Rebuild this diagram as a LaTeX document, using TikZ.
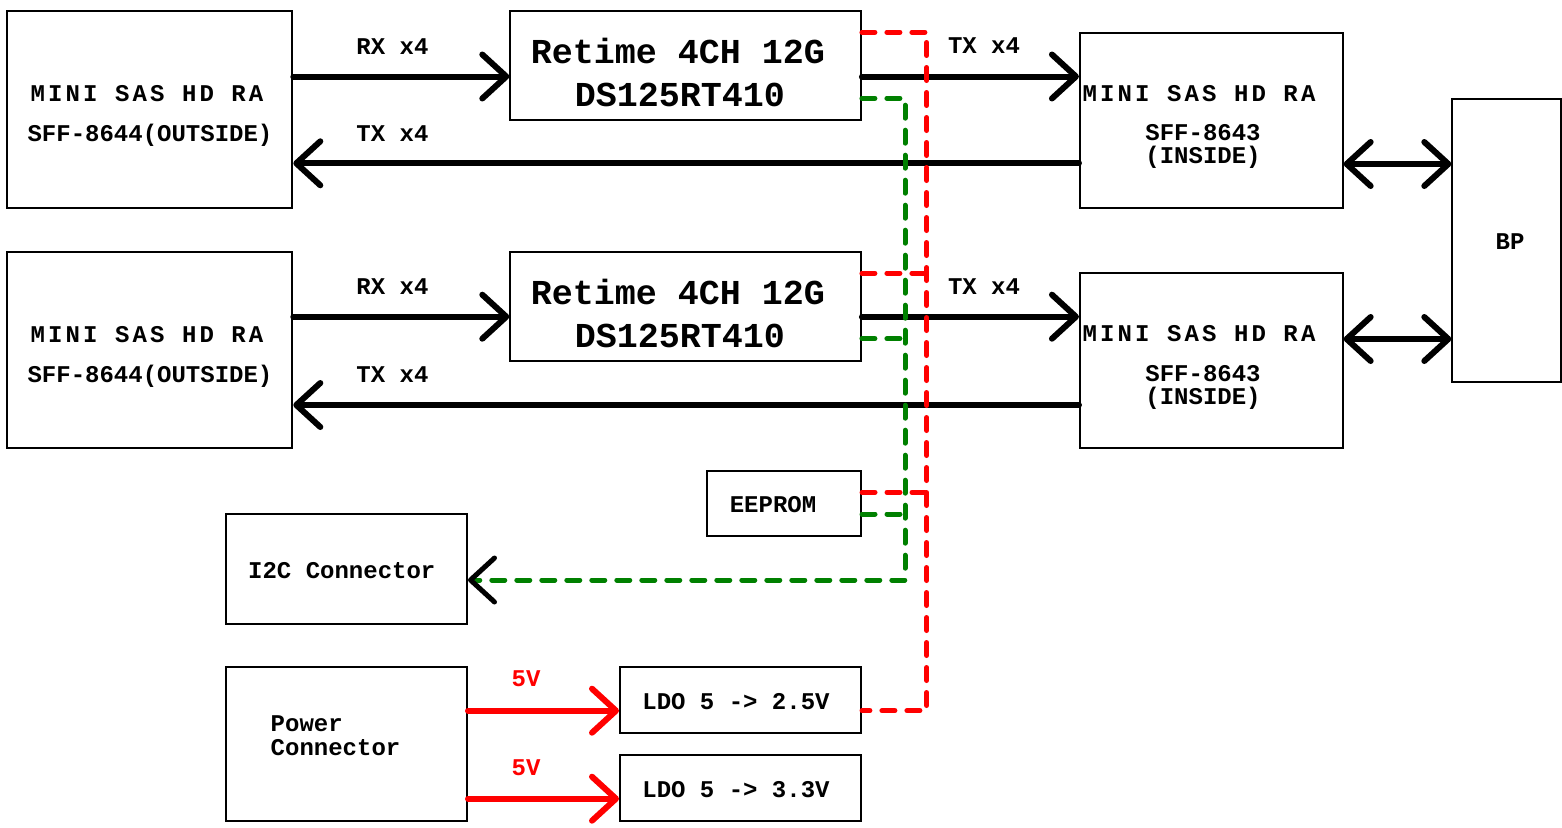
\documentclass[tikz,border=0pt]{standalone}
\usepackage{fontspec}
\setmainfont{Liberation Mono}
\newfontfamily\spacedfont[LetterSpace=13]{Liberation Mono}
\usetikzlibrary{arrows.meta,positioning}

\begin{document}
\begin{tikzpicture}[x=1pt,y=-1pt]
\tikzstyle{box}=[draw, line width=2pt, inner sep=0pt]
\tikzstyle{lbl}=[inner sep=0pt, anchor=base, font=\fontsize{24}{24}\selectfont\bfseries]
\tikzstyle{wide}=[lbl, font=\spacedfont\fontsize{24}{24}\selectfont\bfseries]
\tikzstyle{chip}=[lbl, font=\fontsize{35}{35}\selectfont\bfseries]
\tikzstyle{bus}=[line width=6pt, line cap=round, line join=round, -{Straight Barb[length=24pt,width=44pt,round]}]
\tikzstyle{bibus}=[bus, {Straight Barb[length=24pt,width=44pt,round]}-{Straight Barb[length=24pt,width=44pt,round]}]
\tikzstyle{vin}=[bus, red]
\tikzstyle{pwr}=[red, line width=5pt, line cap=round, dash pattern=on 13pt off 12pt]
\tikzstyle{sda}=[pwr, green!50!black]

\useasboundingbox (0,0) rectangle (1562,827);

% connectors outside
\node[box, minimum width=285pt, minimum height=197.5pt] (out1) at (149.8,109.5) {};
\node[box, minimum width=285pt, minimum height=196pt] (out2) at (149.8,350.3) {};
\node[wide] (out1-a) at (147,101.5) {MINI SAS HD RA};
\node[lbl] (out1-b) at (150,141.5) {SFF-8644(OUTSIDE)};
\node[wide] (out2-a) at (147,342) {MINI SAS HD RA};
\node[lbl] (out2-b) at (150,382) {SFF-8644(OUTSIDE)};

% retimers
\node[box, minimum width=350.6pt, minimum height=109.3pt] (rt1) at (685.6,65.3) {};
\node[box, minimum width=350.6pt, minimum height=109.3pt] (rt2) at (685.6,306.3) {};
\node[chip] (rt1-a) at (678,63) {Retime 4CH 12G};
\node[chip] (rt1-b) at (680,106) {DS125RT410};
\node[chip] (rt2-a) at (678,304) {Retime 4CH 12G};
\node[chip] (rt2-b) at (680,347) {DS125RT410};

% connectors inside
\node[box, minimum width=262.7pt, minimum height=175pt] (in1) at (1211.3,120.2) {};
\node[box, minimum width=262.7pt, minimum height=175pt] (in2) at (1211.3,360.7) {};
\node[wide] (in1-a) at (1199,101.7) {MINI SAS HD RA};
\node[lbl] (in1-b) at (1203,140.7) {SFF-8643};
\node[lbl] (in1-c) at (1203,163.5) {(INSIDE)};
\node[wide] (in2-a) at (1199,341.7) {MINI SAS HD RA};
\node[lbl] (in2-b) at (1203,381) {SFF-8643};
\node[lbl] (in2-c) at (1203,404) {(INSIDE)};

\node[box, minimum width=109pt, minimum height=283.3pt] (bp) at (1506.8,240.7) {};
\node[lbl] (bp-a) at (1510,249) {BP};

% management and power
\node[box, minimum width=154pt, minimum height=65pt] (eeprom) at (784,503.5) {};
\node[lbl] (eeprom-a) at (773,512.7) {EEPROM};
\node[box, minimum width=241pt, minimum height=110pt] (i2c) at (346.5,569) {};
\node[lbl] (i2c-a) at (341.8,578.3) {I2C Connector};
\node[box, minimum width=241pt, minimum height=153.7pt] (power) at (346.5,744.2) {};
\node[lbl, anchor=base west] (power-a) at (270.5,731) {Power};
\node[lbl, anchor=base west] (power-b) at (270.5,755) {Connector};
\node[box, minimum width=241pt, minimum height=65.7pt] (ldo1) at (740.5,700.2) {};
\node[lbl] (ldo1-a) at (736,709.3) {LDO 5 -> 2.5V};
\node[box, minimum width=241pt, minimum height=66pt] (ldo2) at (740.5,788) {};
\node[lbl] (ldo2-a) at (736,797.3) {LDO 5 -> 3.3V};

% high speed lanes
\draw[bus] (out1.east |- 0,76.5) -- (rt1.west |- 0,76.5);
\draw[bus] (in1.west |- 0,163.3) -- (out1.east |- 0,163.3);
\draw[bus] (rt1.east |- 0,76.5) -- (in1.west |- 0,76.5);
\draw[bibus] (in1.east |- 0,164) -- (bp.west |- 0,164);
\draw[bus] (out2.east |- 0,316.7) -- (rt2.west |- 0,316.7);
\draw[bus] (in2.west |- 0,405) -- (out2.east |- 0,405);
\draw[bus] (rt2.east |- 0,316.7) -- (in2.west |- 0,316.7);
\draw[bibus] (in2.east |- 0,339) -- (bp.west |- 0,339);
\node[lbl] (rx1) at (392.5,54) {RX x4};
\node[lbl] (tx1) at (392.5,141.5) {TX x4};
\node[lbl] (tx1r) at (984,53.5) {TX x4};
\node[lbl] (rx2) at (392.5,294.5) {RX x4};
\node[lbl] (tx2) at (392.5,382) {TX x4};
\node[lbl] (tx2r) at (984,294) {TX x4};

% 5V feeds
\draw[vin] (power.east |- 0,710.7) -- (ldo1.west |- 0,710.7);
\draw[vin] (power.east |- 0,798.7) -- (ldo2.west |- 0,798.7);
\node[lbl, red] (v1) at (526,686.7) {5V};
\node[lbl, red] (v2) at (526,775) {5V};

% 2.5V rail and I2C bus
\coordinate (rtop) at (926.7,32.3);
\coordinate (rbot) at (926.7,710.7);
\coordinate (gtop) at (905,98.3);
\coordinate (gbot) at (905,580);
\draw[pwr] (rt1.east |- rtop) -- (rtop) -- (rbot) -- (ldo1.east |- rbot);
\draw[pwr] (rt2.east |- 0,273.3) -- (rtop |- 0,273.3);
\draw[pwr] (eeprom.east |- 0,492.3) -- (rtop |- 0,492.3);
\draw[sda, -{Straight Barb[length=24pt,width=44pt,round,color=black]}] (rt1.east |- gtop) -- (gtop) -- (gbot) -- (i2c.east |- gbot);
\draw[sda] (rt2.east |- 0,338.7) -- (gtop |- 0,338.7);
\draw[sda] (eeprom.east |- 0,514) -- (gtop |- 0,514);
\end{tikzpicture}
\end{document}
